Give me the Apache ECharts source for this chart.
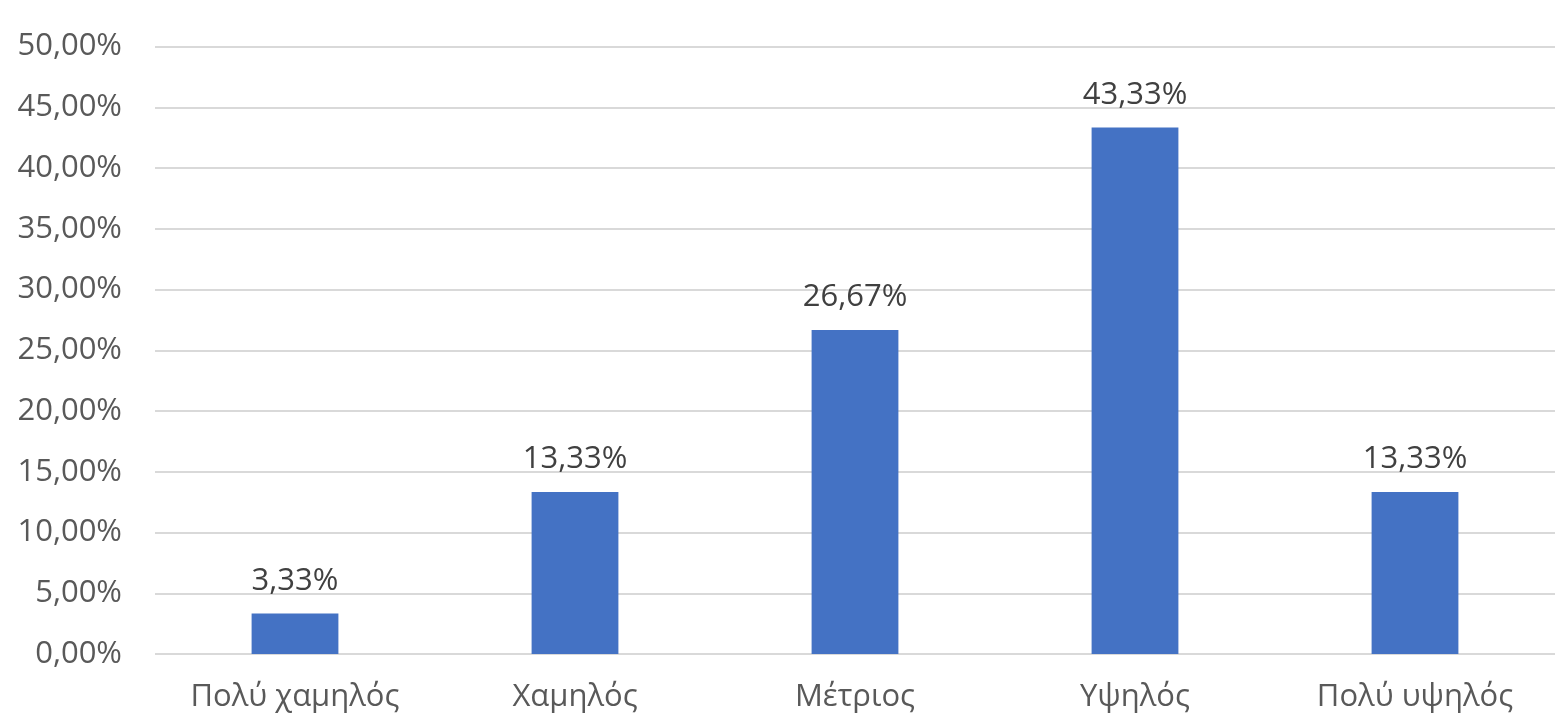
<!DOCTYPE html>
<html>
<head>
<meta charset="utf-8">
<script src="https://cdn.jsdelivr.net/npm/echarts@6/dist/echarts.min.js"></script>
<style>html,body{margin:0;padding:0;background:#fff}#c{width:1557px;height:720px}</style>
</head>
<body>
<div id="c"></div>
<script>
const categories = ['Πολύ χαμηλός', 'Χαμηλός', 'Μέτριος', 'Υψηλός', 'Πολύ υψηλός'];
const values = [3.33, 13.33, 26.67, 43.33, 13.33];
const yMin = 0, yMax = 50, yStep = 5;

const fmt = v => v.toFixed(2).replace('.', ',') + '%';
const FONT = '"Open Sans", "Noto Sans", sans-serif';
const chart = echarts.init(document.getElementById('c'), null, {renderer: 'canvas'});
chart.setOption({
  animation: false,
  grid: {left: 155, right: 2, top: 46.5, bottom: 66, containLabel: false},
  xAxis: {
    type: 'category',
    data: categories,
    axisLine: {show: false},
    axisTick: {show: false},
    axisLabel: {color: '#595959', fontSize: 31, fontFamily: FONT, margin: 28}
  },
  yAxis: {
    type: 'value',
    min: yMin, max: yMax, interval: yStep,
    axisLine: {show: false},
    axisTick: {show: false},
    splitLine: {lineStyle: {color: '#d9d9d9', width: 2}},
    axisLabel: {color: '#595959', fontSize: 31, fontFamily: FONT, margin: 33, formatter: fmt}
  },
  series: [{
    type: 'bar',
    data: values,
    barWidth: '31%',
    itemStyle: {color: '#4472C4'},
    label: {show: true, position: 'top', distance: 17, color: '#404040', fontSize: 31, fontFamily: FONT, formatter: p => fmt(p.value)}
  }]
});
</script>
</body>
</html>
